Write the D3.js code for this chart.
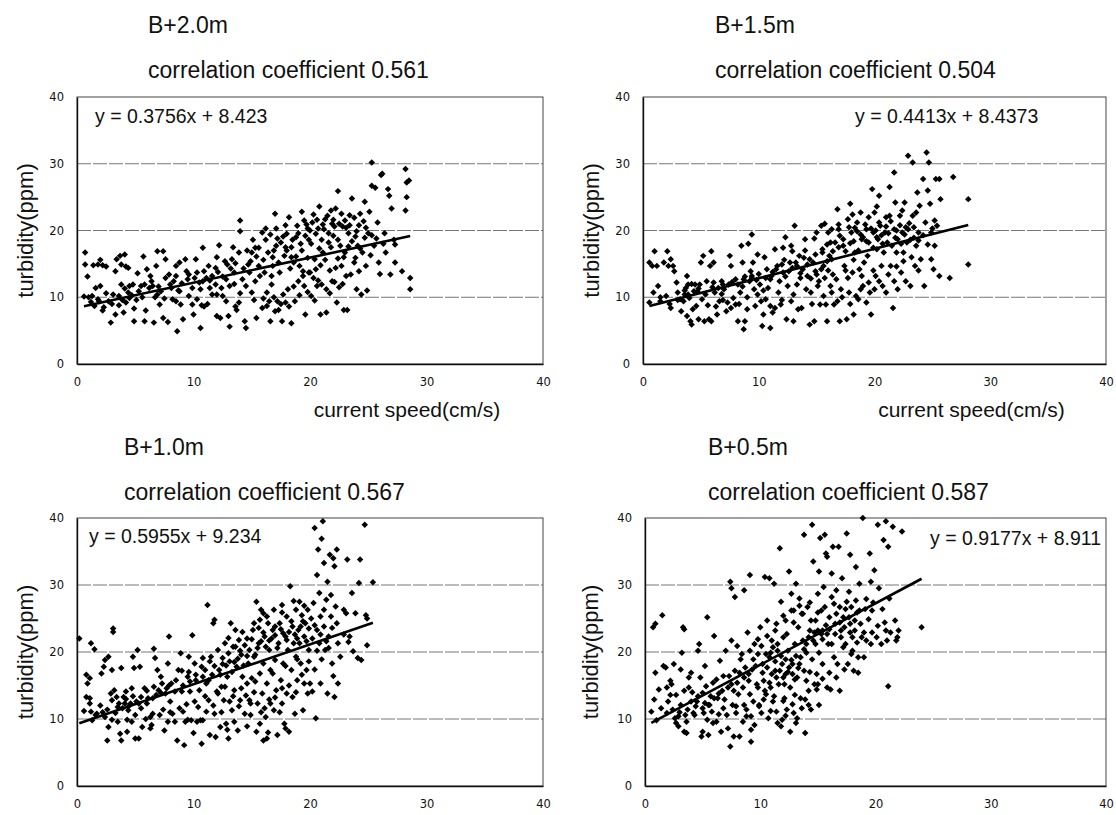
<!DOCTYPE html>
<html>
<head>
<meta charset="utf-8">
<script src="https://cdn.jsdelivr.net/npm/d3@7"></script>
<style>
  body { margin: 0; background: #fff; }
  svg { display: block; font-family: "Liberation Sans", Arial, sans-serif; }
</style>
</head>
<body>
<svg id="chart" width="1116" height="815"></svg>
<script>
// ---- data ----
const depthNames = ["B+2.0m", "B+1.5m", "B+1.0m", "B+0.5m"];
const correlations = ["0.561", "0.504", "0.567", "0.587"];
const slopes = [0.3756, 0.4413, 0.5955, 0.9177];
const intercepts = [8.423, 8.4373, 9.234, 8.911];
const equationLabels = ["y = 0.3756x + 8.423", "y = 0.4413x + 8.4373", "y = 0.5955x + 9.234", "y = 0.9177x + 8.911"];
const xTicks = [0, 10, 20, 30, 40];
const yTicks = [0, 10, 20, 30, 40];

// [current speed (cm/s), turbidity (ppm)]
const pointsB20 = [
  [0.7,16.7],[0.7,14.9],[0.9,13.1],[0.6,10.1],[1.0,10.0],[1.3,10.2],[1.4,14.8],[1.8,14.9],[2.2,14.8],[2.5,14.6],[2.0,15.6],
  [2.0,11.7],[1.5,8.7],[1.9,9.4],[2.3,8.5],[2.9,6.2],[3.1,10.4],[3.3,13.9],[3.4,15.7],[3.7,16.2],[4.1,16.4],[3.8,14.9],
  [4.2,14.6],[4.4,14.4],[3.3,7.4],[4.0,7.7],[4.1,11.3],[3.8,11.9],[4.5,11.7],[4.8,11.9],[4.5,9.9],[4.2,9.2],[4.9,6.4],
  [5.1,9.6],[5.2,13.6],[5.5,11.7],[5.8,11.9],[5.7,16.1],[6.0,14.2],[6.3,13.2],[5.8,6.4],[6.6,6.2],[6.5,11.7],[6.8,14.7],
  [6.9,16.9],[7.4,16.9],[7.6,15.7],[6.9,10.4],[7.1,8.9],[7.4,6.9],[7.8,6.3],[7.6,12.9],[8.0,11.9],[8.3,12.4],[8.5,13.2],
  [8.2,9.7],[8.5,14.7],[8.8,15.2],[8.6,4.9],[8.8,10.9],[8.9,8.9],[9.1,6.7],[9.3,15.7],[9.4,13.9],[9.5,12.7],[9.9,8.9],
  [10.0,7.4],[10.2,15.7],[10.3,13.7],[10.5,12.2],[10.6,11.2],[10.8,17.4],[10.6,5.4],[10.9,8.6],[11.1,12.9],[11.3,14.7],
  [11.4,11.4],[11.6,10.4],[11.9,14.4],[12.0,16.0],[12.2,17.8],[12.0,7.2],[12.3,6.9],[12.5,13.1],[12.7,15.4],[12.8,9.4],
  [13.0,7.2],[13.1,5.6],[13.3,15.7],[13.4,17.5],[13.5,13.7],[13.6,8.6],[13.7,8.1],[13.9,16.7],[14.0,21.5],[14.0,19.9],
  [14.2,12.7],[14.4,6.4],[14.5,5.4],[14.7,14.9],[15.0,10.7],[15.1,18.6],[15.3,17.4],[15.4,16.1],[15.6,14.7],[15.7,13.2],
  [15.4,6.9],[15.9,8.4],[16.2,20.3],[16.2,18.6],[16.4,16.7],[16.3,10.7],[16.5,9.4],[16.6,6.4],[16.7,13.2],[16.8,14.7],
  [17.0,22.5],[17.1,20.3],[17.1,17.7],[17.2,9.4],[17.3,8.1],[17.4,13.7],[17.6,6.4],[17.7,19.1],[17.9,20.8],[18.1,11.2],
  [18.2,22.0],[18.4,17.5],[18.4,6.1],[18.5,18.6],[18.7,9.4],[18.8,16.1],[19.0,19.6],[19.1,14.7],[19.3,22.8],[19.4,13.2],
  [19.5,11.7],[19.6,7.4],[19.8,20.3],[19.9,18.6],[20.0,13.7],[20.1,10.2],[20.2,21.2],[20.4,15.7],[20.5,14.2],[20.6,11.7],
  [20.7,20.3],[20.8,23.6],[20.9,7.4],[21.0,18.6],[21.1,16.7],[21.3,21.7],[21.4,11.2],[21.4,7.7],[21.6,19.6],[21.8,17.5],
  [21.9,12.4],[22.1,20.6],[22.2,23.3],[22.3,9.2],[22.4,25.9],[22.4,18.6],[22.5,11.5],[22.7,14.7],[22.8,20.6],[22.9,8.1],
  [23.0,16.7],[23.1,13.2],[23.2,8.1],[23.3,19.6],[23.4,22.3],[23.6,24.8],[23.8,15.2],[23.9,19.1],[24.0,11.2],[24.1,17.7],
  [24.2,20.8],[24.4,10.4],[24.5,16.7],[24.7,24.3],[24.8,14.7],[24.9,11.0],[25.0,19.6],[25.1,22.8],[25.3,30.2],[25.3,26.7],
  [25.5,17.7],[25.6,26.4],[25.8,21.2],[25.9,15.2],[26.0,13.5],[26.1,28.3],[26.2,28.5],[26.4,19.6],[26.5,16.7],[26.7,26.2],
  [26.8,25.2],[26.9,13.4],[27.0,23.3],[27.2,18.6],[27.3,15.2],[27.3,17.9],[27.9,13.9],[28.2,29.2],[28.3,27.2],[28.3,25.0],
  [28.2,23.0],[28.5,27.5],[28.6,12.9],[28.6,11.2],
  [17.5,18.2],[18.0,17.0],[18.8,19.0],[19.2,18.0],[19.6,19.2],[20.1,18.0],[20.5,19.5],[21.2,20.2],[21.6,18.2],[22.0,19.2],
  [22.6,17.7],[23.1,20.4],[23.6,18.4],[24.0,19.9],[24.6,21.4],[21.9,21.0],[20.8,17.3],[19.8,15.9],[18.6,15.2],[17.8,16.2],
  [16.9,17.0],[22.9,16.0],[23.9,15.9],[24.3,17.3],[21.3,15.6],[20.3,12.9],[19.0,12.4],[19.9,13.7],[18.3,14.3],[22.2,14.4],
  [16.1,13.7],[15.6,17.4],[14.8,13.7],[13.2,14.3],[12.8,12.7],[11.6,13.2],[10.8,12.4],[9.9,11.4],[9.0,12.1],[8.1,11.4],
  [7.2,10.9],[6.2,11.4],[5.3,10.9],[4.4,10.7],[3.6,10.2],[2.7,9.4],[1.8,9.7],[12.5,10.2],[14.5,11.7],[16.7,11.9],
  [17.9,9.2],[16.3,8.7],[17.0,7.9],[13.9,9.2],[10.3,9.7],[11.9,11.9],
  [1.2,9.3],[2.5,10.6],[3.0,9.0],[3.9,9.6],[4.7,10.3],[5.6,10.0],[6.4,12.4],[7.0,11.6],[7.9,13.4],[8.7,11.0],[9.6,13.4],
  [10.1,12.9],[10.9,13.9],[11.4,12.5],[12.1,13.8],[12.9,14.9],[13.6,15.1],[14.3,14.3],[14.9,15.4],[15.3,12.4],[16.0,15.6],
  [16.8,16.0],[17.3,15.2],[17.9,17.5],[18.4,16.0],[19.3,17.0],[19.7,20.9],[20.0,20.0],[20.6,21.6],[21.1,20.9],[21.5,22.2],
  [22.0,21.6],[22.5,21.0],[23.0,21.5],[23.4,20.8],[23.8,21.9],[24.3,22.5],[24.8,20.4],[25.3,19.3],[25.7,18.8],[26.3,18.0],
  [22.7,22.5],[21.8,23.0],[20.3,22.4],[19.5,21.5],[18.9,20.7],[18.0,19.5],[17.2,18.8],[16.6,19.4],[15.9,19.7],[15.0,16.7],
  [14.6,17.0],[16.9,10.0],[17.5,9.0],[18.2,8.6],[17.7,10.4],[16.0,9.8],[18.6,11.6],[19.1,10.3],[19.8,10.8],[20.4,9.5],
  [21.0,11.9],[21.7,10.6],[22.1,12.3],[22.8,12.0],[23.5,13.4],[24.2,13.9],[20.7,12.5],[19.4,13.9],[20.9,14.8],[21.7,14.0],
  [22.4,15.8],[23.3,17.6],[24.7,18.9],[25.2,16.3],[13.1,11.7],[12.0,10.4],[11.2,9.0],[10.7,8.8],[9.6,10.2],[8.5,9.4],
  [7.5,9.8],[6.7,10.0],[5.9,8.0],[4.9,8.3],[3.6,8.8],[2.2,8.0],[1.6,11.4],[14.0,10.6],[15.2,9.6],[13.5,12.0],[12.4,11.4]
];

const pointsB15 = [
  [0.55,15.2],[0.8,14.7],[1.0,16.9],[1.2,14.7],[0.55,9.2],[0.9,10.7],[1.3,11.7],[1.5,9.4],[1.8,15.2],[2.1,16.9],[2.2,14.7],
  [2.4,15.7],[2.6,14.7],[2.7,13.9],[2.0,10.2],[2.4,8.4],[2.9,12.2],[3.0,10.7],[3.3,7.9],[3.5,9.4],[3.6,10.4],[3.7,11.4],
  [3.8,13.2],[3.9,11.9],[4.0,9.9],[4.1,6.4],[4.2,5.9],[4.3,8.2],[4.5,11.9],[4.7,10.9],[4.8,6.7],[5.0,15.2],[5.1,9.7],
  [5.2,16.2],[5.5,12.4],[5.7,6.7],[5.3,6.4],[5.8,14.7],[5.9,16.9],[6.1,15.2],[6.1,12.2],[6.2,10.7],[5.9,6.4],[6.4,7.4],
  [6.6,9.4],[6.8,12.4],[7.0,11.2],[7.3,9.2],[7.2,7.9],[7.5,16.2],[7.6,14.7],[7.8,9.9],[8.0,8.9],[8.2,6.4],[8.4,10.7],
  [8.5,17.7],[8.6,15.2],[8.7,12.7],[8.7,5.2],[8.8,6.4],[9.0,8.2],[9.1,18.0],[9.3,13.9],[9.4,13.2],[9.4,19.4],[9.5,15.2],
  [9.6,11.2],[9.7,8.7],[9.9,16.4],[10.1,11.9],[10.2,9.4],[10.3,5.7],[10.4,7.4],[10.5,16.0],[10.7,14.2],[10.8,11.4],
  [11.0,8.7],[11.0,5.4],[11.1,13.2],[11.2,7.7],[11.4,17.2],[11.6,14.7],[11.7,10.7],[11.9,8.9],[12.1,17.4],[12.1,13.7],
  [12.3,19.0],[12.4,6.7],[12.5,11.7],[12.7,15.2],[12.8,17.7],[12.8,9.4],[13.0,6.4],[13.1,20.7],[13.3,14.7],[13.4,8.2],
  [13.5,16.2],[13.6,12.9],[13.7,8.4],[14.0,18.7],[14.2,13.2],[14.4,5.9],[14.5,10.7],[14.7,15.2],[14.8,6.4],[15.0,19.7],
  [15.0,13.4],[15.1,11.7],[15.3,8.9],[15.4,20.7],[15.5,16.7],[15.6,14.7],[15.7,12.9],[15.8,8.9],[15.9,6.4],[16.0,19.7],
  [16.2,18.2],[16.3,10.7],[16.3,15.7],[16.5,8.9],[16.7,12.7],[16.8,23.2],[16.9,20.2],[17.0,6.4],[17.1,11.2],[17.3,17.7],
  [17.4,14.7],[17.6,6.7],[17.7,21.7],[17.8,10.7],[17.9,24.0],[18.0,19.7],[18.1,13.7],[18.2,7.4],[18.3,16.7],[18.5,21.2],
  [18.6,9.7],[18.7,14.2],[18.8,22.7],[18.9,18.7],[19.0,11.7],[19.1,15.2],[19.3,20.2],[19.3,9.2],[19.4,16.2],[19.6,10.7],
  [19.7,7.4],[19.8,26.2],[19.9,19.7],[20.0,22.7],[20.1,13.2],[20.2,17.2],[20.3,18.7],[20.4,25.2],[20.5,20.7],[20.6,14.7],
  [20.7,11.7],[20.8,16.7],[20.9,19.7],[21.0,10.7],[21.1,18.2],[21.3,22.2],[21.3,26.5],[21.4,14.7],[21.6,8.4],[21.7,20.2],
  [21.7,28.7],[21.8,24.2],[21.9,16.7],[22.0,11.2],[22.0,18.7],[22.2,22.2],[22.3,13.7],[22.4,19.7],[22.5,16.7],[22.6,24.2],
  [22.7,12.4],[22.8,18.2],[22.9,31.2],[22.9,20.2],[23.1,11.7],[23.3,30.2],[23.3,22.2],[23.4,18.9],[23.5,14.7],[23.6,22.7],
  [23.7,25.7],[23.8,19.7],[23.9,23.7],[24.0,15.7],[24.2,27.7],[24.3,11.7],[24.4,21.2],[24.5,31.7],[24.6,26.0],[24.7,30.2],
  [24.8,24.0],[24.9,15.7],[24.9,19.7],[25.1,14.2],[25.2,17.7],[25.2,21.5],[25.3,27.7],[25.4,20.7],[25.6,13.2],[25.6,27.7],
  [25.7,24.7],[26.5,12.9],[26.8,28.0],[28.1,24.7],[28.1,14.9],
  [15.5,17.2],[16.1,16.2],[16.6,18.2],[17.0,19.2],[17.5,16.9],[18.2,18.4],[18.6,17.0],[19.0,19.0],[19.5,18.2],[19.9,17.4],
  [20.2,19.0],[20.7,18.0],[21.2,19.6],[21.5,17.7],[21.9,20.0],[22.3,18.0],[22.7,20.5],[23.1,18.6],[23.6,17.7],[20.4,21.2],
  [19.2,20.9],[18.5,19.9],[17.8,20.5],[16.9,20.9],[15.9,15.4],[14.9,13.9],[14.2,14.9],[13.6,13.6],[12.9,14.4],[12.3,13.1],
  [11.8,12.4],[11.2,13.8],[10.6,12.9],[9.8,12.6],[9.2,12.4],[8.8,13.1],[8.2,11.9],[7.7,12.3],[6.9,11.9],[6.5,11.4],
  [4.9,11.9],[4.4,10.9],[3.9,10.4],[3.2,9.7],[13.9,15.9],[15.2,12.4],[16.4,13.4],[17.7,12.9],[18.9,13.2],[20.0,11.2],
  [21.7,12.4],[14.6,9.0],[16.8,9.4],[18.4,10.2],
  [1.5,10.0],[2.3,9.0],[3.0,9.6],[3.6,11.0],[4.2,12.0],[4.8,11.3],[5.4,10.4],[6.0,11.5],[6.8,10.5],[7.4,11.9],[8.0,12.7],
  [8.6,11.6],[9.4,12.9],[10.0,13.5],[10.4,11.0],[11.0,12.7],[11.5,14.2],[12.0,14.9],[12.6,13.9],[13.2,15.2],[13.8,14.2],
  [14.4,15.7],[14.9,16.4],[15.4,14.2],[15.9,17.9],[16.4,16.9],[16.9,17.5],[17.3,18.7],[17.9,18.1],[18.3,20.4],[18.8,19.4],
  [19.3,18.4],[19.7,20.3],[20.1,20.0],[20.6,19.3],[21.0,20.6],[21.4,21.4],[21.8,18.9],[22.2,20.8],[22.6,19.4],[23.0,21.1],
  [23.4,20.5],[23.8,18.5],[24.2,19.3],[24.6,17.9],[25.0,20.3],[22.4,23.0],[21.0,22.0],[20.2,23.6],[19.5,22.0],[18.1,22.4],
  [16.3,20.2],[15.7,21.0],[14.8,18.8],[14.0,17.0],[12.9,16.9],[12.2,15.6],[17.2,10.0],[17.9,9.0],[18.8,11.2],[19.5,12.2],
  [19.9,14.0],[20.4,12.4],[21.2,13.4],[21.9,14.6],[22.5,15.4],[23.2,16.0],[23.8,14.0],[15.6,10.2],[14.1,11.2],[13.0,10.4],
  [12.0,9.6],[11.4,8.4],[10.6,9.7],[9.9,10.4],[9.0,10.0],[8.3,9.0],[7.6,8.4],[6.9,9.6],[6.3,8.6],[5.6,8.8],[4.6,8.7],
  [3.8,7.2],[16.2,11.7],[17.5,14.0],[18.2,15.6],[16.0,14.0],[14.5,12.8],[13.3,11.9]
];

const pointsB10 = [
  [0.2,22.0],[0.8,13.3],[0.9,15.3],[0.8,16.6],[1.1,16.1],[1.2,21.3],[1.5,20.4],[1.1,13.1],[1.1,12.3],[1.2,11.1],[1.7,10.8],
  [2.1,16.8],[2.3,17.8],[2.4,18.8],[2.7,19.3],[2.4,10.3],[2.6,6.8],[2.7,8.8],[3.1,23.5],[3.1,23.0],[3.0,17.3],[2.9,13.8],
  [3.2,14.3],[3.4,13.3],[3.5,11.8],[3.5,9.6],[3.7,7.8],[3.8,6.8],[3.8,17.6],[4.0,13.3],[4.1,12.3],[4.2,14.1],[4.3,8.1],
  [4.4,11.3],[4.6,12.3],[4.7,14.6],[4.8,19.3],[4.9,17.6],[4.7,9.6],[5.0,7.1],[5.2,20.3],[5.3,12.3],[5.4,17.8],[5.5,13.3],
  [5.3,7.1],[5.6,8.8],[5.8,14.6],[6.0,12.3],[6.3,10.3],[6.4,9.1],[6.5,13.1],[6.6,20.5],[6.7,19.1],[6.9,17.3],[7.0,14.3],
  [7.1,10.6],[7.2,16.3],[7.3,15.3],[7.5,8.3],[7.6,13.8],[7.8,18.3],[7.9,22.3],[8.0,12.6],[8.1,15.3],[8.2,10.8],[8.4,9.6],
  [8.6,6.8],[8.7,17.3],[8.9,19.8],[9.0,14.1],[9.1,11.1],[9.2,6.1],[9.3,9.6],[9.5,16.3],[9.6,19.3],[9.7,14.1],[9.8,9.8],
  [9.9,22.5],[10.1,18.3],[10.2,15.8],[10.3,9.6],[10.4,11.8],[10.5,14.3],[10.7,6.3],[10.8,19.1],[10.8,9.8],[11.0,17.3],
  [11.1,15.3],[11.2,27.0],[11.3,12.8],[11.5,19.3],[11.6,16.6],[11.7,24.3],[11.8,10.8],[11.8,24.8],[11.9,7.3],[12.1,20.3],
  [12.1,13.8],[12.2,17.3],[12.3,8.8],[12.4,14.8],[12.5,19.1],[12.6,12.8],[12.7,21.3],[12.8,9.3],[12.9,16.3],[13.0,7.1],
  [13.1,18.6],[13.2,24.3],[13.3,11.3],[13.4,20.8],[13.5,14.3],[13.6,23.3],[13.7,17.8],[13.8,8.3],[13.9,21.8],[14.0,12.8],
  [14.1,19.6],[14.2,16.3],[14.4,10.8],[14.4,21.0],[14.6,15.3],[14.7,18.3],[14.8,12.8],[14.9,10.6],[15.1,23.3],[15.2,19.3],
  [15.3,15.6],[15.4,27.5],[15.4,8.1],[15.5,12.3],[15.6,21.3],[15.7,16.8],[15.7,24.8],[15.8,26.3],[15.9,13.8],[16.0,18.3],
  [16.0,6.8],[16.1,22.3],[16.2,10.3],[16.3,15.3],[16.3,7.1],[16.4,24.3],[16.5,20.3],[16.6,12.3],[16.6,17.3],[16.8,23.3],
  [16.9,26.3],[16.9,11.3],[17.0,18.8],[17.1,14.3],[17.2,7.6],[17.3,21.3],[17.4,24.3],[17.5,15.8],[17.6,27.0],[17.6,12.3],
  [17.7,18.3],[17.8,9.3],[17.9,22.3],[18.0,25.3],[18.0,13.8],[18.1,20.3],[18.2,8.1],[18.3,29.8],[18.4,17.3],[18.5,23.8],
  [18.5,13.3],[18.6,21.3],[18.7,10.8],[18.8,26.3],[18.8,19.3],[18.9,15.8],[19.0,23.3],[19.1,27.5],[19.1,21.3],[19.2,18.3],
  [19.3,25.5],[19.4,11.3],[19.5,15.3],[19.5,22.3],[19.6,24.3],[19.7,17.3],[19.8,13.8],[19.8,26.3],[19.9,20.3],[20.0,15.3],
  [20.2,14.1],[20.3,27.3],[20.4,38.5],[20.5,10.1],[20.6,23.3],[20.6,31.5],[20.7,35.3],[20.8,21.3],[20.9,25.3],[20.9,15.3],
  [21.0,36.9],[21.1,39.5],[21.2,33.3],[21.2,23.8],[21.3,20.3],[21.4,27.8],[21.5,30.5],[21.5,13.8],[21.6,22.3],[21.7,34.5],
  [21.8,28.5],[21.8,25.3],[21.9,18.3],[22.0,34.0],[22.1,32.8],[22.1,13.3],[22.2,26.8],[22.3,35.3],[22.4,21.3],[22.4,15.3],
  [22.6,19.3],[22.9,26.3],[23.1,25.8],[23.2,33.8],[23.4,22.3],[23.6,28.8],[23.7,20.1],[24.1,19.1],[24.2,30.3],[24.3,33.8],
  [24.4,18.8],[24.7,39.0],[24.8,25.5],[24.9,21.0],[24.9,25.0],[25.4,30.4],
  [12.3,16.6],[12.8,18.0],[13.3,17.0],[13.8,19.0],[14.3,18.0],[14.8,20.3],[15.3,19.6],[15.8,21.6],[16.2,20.8],[16.7,22.0],
  [17.2,20.6],[17.7,22.8],[18.2,23.0],[18.7,22.6],[19.2,23.8],[19.7,21.6],[20.2,22.0],[20.6,20.2],[17.0,23.8],[16.3,25.3],
  [15.6,23.6],[14.6,22.0],[13.6,20.8],[11.4,18.6],[10.8,16.3],[9.7,15.6],[9.1,15.0],[8.4,14.1],[7.7,14.6],[6.8,13.6],
  [6.1,13.1],[5.1,12.6],[4.5,12.0],[3.9,11.6],[3.3,10.9],[2.2,11.0],[1.6,10.6],[14.1,14.6],[15.0,16.1],[16.8,16.8],
  [17.9,17.9],[18.9,18.9],[12.0,14.1],[13.1,12.6],[14.9,12.3],[16.1,11.6],[17.4,11.0],[11.1,11.1],[9.5,9.9],[10.6,9.8],
  [7.8,9.6],[6.3,8.6],
  [0.6,11.2],[1.3,9.8],[2.0,12.0],[2.6,11.4],[3.0,12.8],[3.6,12.3],[4.2,13.0],[4.8,13.4],[5.5,11.6],[6.0,14.2],[6.6,14.8],
  [7.2,13.9],[7.9,15.0],[8.5,15.8],[9.0,17.2],[9.6,17.0],[10.2,16.6],[10.7,17.8],[11.3,15.8],[11.8,17.9],[12.5,18.2],
  [13.0,19.8],[13.5,18.5],[14.0,20.2],[14.6,19.4],[15.0,21.9],[15.5,20.6],[16.0,22.9],[16.5,21.7],[17.0,22.5],[17.5,23.4],
  [18.0,21.8],[18.4,24.6],[18.9,22.0],[19.4,24.6],[19.9,23.5],[20.4,24.0],[20.9,22.6],[21.4,21.6],[21.9,23.6],[22.3,24.3],
  [22.9,22.6],[23.3,21.5],[23.9,25.8],[16.0,25.8],[15.2,24.3],[14.2,23.0],[13.0,22.1],[17.6,25.9],[18.6,27.6],[19.5,26.9],
  [20.1,25.0],[20.8,28.8],[21.2,26.3],[12.7,14.8],[13.4,13.4],[13.9,11.9],[14.5,13.5],[15.2,14.0],[15.8,11.0],[16.5,12.9],
  [17.0,13.2],[17.6,14.6],[18.2,15.0],[18.8,14.0],[19.3,16.6],[19.9,18.6],[20.4,17.4],[21.0,18.9],[21.6,20.6],[22.0,16.4],
  [11.7,12.0],[12.4,11.0],[11.0,13.4],[10.1,12.6],[9.4,12.2],[8.8,11.6],[8.0,11.0],[7.4,11.4],[6.5,10.8],[5.9,10.0],
  [5.0,10.6],[4.3,9.9],[3.0,9.9],[12.9,8.4],[13.5,9.6],[14.6,8.9],[15.7,9.3],[16.4,8.0],[17.9,8.6],[11.4,7.6],[10.0,7.9]
];

const pointsB05 = [
  [0.55,11.1],[0.7,23.7],[0.9,24.2],[0.8,12.9],[0.9,16.9],[1.2,14.4],[1.5,25.5],[1.6,17.9],[1.8,17.7],[1.9,14.7],[2.2,15.7],
  [2.3,15.2],[2.4,11.4],[2.5,18.2],[2.6,10.1],[2.7,9.4],[2.9,8.9],[3.1,12.1],[3.2,19.9],[3.3,23.7],[3.4,23.4],[3.4,14.2],
  [3.5,10.6],[3.4,8.1],[3.6,7.9],[3.8,14.7],[3.8,16.2],[4.0,12.6],[4.2,10.9],[4.3,10.6],[4.5,12.6],[4.6,20.2],[4.7,21.2],
  [4.8,16.2],[4.9,7.4],[5.0,8.1],[5.1,10.9],[5.2,17.9],[5.3,14.9],[5.4,25.2],[5.5,7.6],[5.5,12.1],[5.7,13.4],[5.8,11.1],
  [5.9,9.4],[6.0,22.4],[6.2,15.9],[6.3,13.1],[6.5,18.7],[6.6,8.1],[6.8,11.6],[6.8,16.4],[7.0,20.2],[7.1,10.6],[7.2,14.7],
  [7.4,5.9],[7.4,30.5],[7.5,29.5],[7.5,21.7],[7.6,12.1],[7.7,7.4],[7.8,28.2],[7.8,17.2],[7.9,10.9],[8.1,13.7],[8.2,7.4],
  [8.3,18.9],[8.5,14.7],[8.6,29.2],[8.6,12.1],[8.8,10.4],[8.9,22.9],[9.0,15.7],[9.1,31.5],[9.2,8.4],[9.2,6.6],[9.3,17.4],
  [9.4,12.6],[9.5,21.2],[9.5,9.1],[9.7,15.2],[9.8,19.7],[9.9,12.1],[10.0,23.7],[10.1,10.9],[10.2,18.2],[10.3,15.7],
  [10.4,31.2],[10.5,13.7],[10.6,24.7],[10.7,10.1],[10.8,19.2],[10.8,31.0],[10.9,14.7],[11.0,21.7],[11.1,12.6],[11.2,30.2],
  [11.3,17.2],[11.4,24.2],[11.4,11.1],[11.5,20.2],[11.6,15.2],[11.7,35.5],[11.8,27.5],[11.8,8.9],[11.9,18.2],[12.0,22.2],
  [12.1,13.1],[12.2,16.7],[12.2,24.7],[12.3,11.4],[12.4,20.2],[12.5,32.0],[12.6,8.1],[12.6,14.7],[12.7,28.7],[12.8,18.2],
  [12.9,10.9],[12.9,26.2],[13.0,21.2],[13.1,30.2],[13.2,16.2],[13.2,10.1],[13.3,23.7],[13.4,28.0],[13.5,19.2],[13.5,13.1],
  [13.7,25.7],[13.8,37.5],[13.8,17.2],[13.9,7.9],[14.0,21.2],[14.1,26.7],[14.2,14.2],[14.2,12.1],[14.3,23.2],[14.5,18.9],
  [14.5,39.0],[14.6,33.5],[14.7,15.2],[14.8,24.7],[14.8,21.2],[14.9,16.7],[15.0,28.7],[15.1,12.1],[15.1,32.0],[15.2,37.0],
  [15.3,26.2],[15.4,18.2],[15.4,23.2],[15.5,29.7],[15.6,37.5],[15.7,34.7],[15.8,14.7],[15.8,34.2],[15.9,21.2],[16.0,25.2],
  [16.2,28.2],[16.2,31.7],[16.3,35.7],[16.4,19.2],[16.5,24.2],[16.6,29.2],[16.6,16.2],[16.8,35.7],[16.9,26.7],[16.9,14.2],
  [17.0,22.2],[17.1,31.0],[17.2,25.2],[17.4,21.2],[17.5,27.5],[17.5,37.7],[17.6,18.2],[17.7,29.0],[17.8,24.2],[17.8,34.5],
  [17.9,26.7],[18.0,20.2],[18.1,17.2],[18.2,23.2],[18.3,32.7],[18.4,25.9],[18.5,19.2],[18.5,16.9],[18.6,30.2],[18.8,22.2],
  [18.9,40.0],[19.0,19.2],[19.1,26.4],[19.2,21.7],[19.4,24.9],[19.5,34.7],[19.6,30.5],[19.7,22.9],[19.8,27.4],[19.9,32.2],
  [20.1,22.2],[20.2,39.0],[20.3,29.5],[20.5,21.2],[20.6,26.4],[20.7,36.7],[20.9,23.2],[20.9,39.5],[21.0,21.7],[21.1,35.7],
  [21.1,14.9],[21.2,28.0],[21.5,38.7],[21.7,24.7],[21.8,21.7],[22.0,23.2],[22.3,38.0],[24.0,23.7],
  [10.6,17.7],[11.0,16.7],[11.3,18.6],[11.7,17.2],[12.0,16.2],[12.2,18.9],[12.5,17.7],[12.8,16.7],[13.1,19.4],[13.4,18.2],
  [13.8,20.4],[14.2,22.2],[14.6,21.7],[15.0,23.2],[15.3,22.7],[15.7,24.0],[16.0,23.4],[16.5,22.7],[16.9,24.4],[17.3,23.7],
  [17.7,25.2],[18.2,24.7],[18.6,26.2],[14.4,24.7],[13.6,25.7],[12.9,24.4],[12.3,22.7],[11.5,21.2],[10.9,19.9],[10.1,20.9],
  [9.6,17.9],[9.0,16.7],[8.6,16.2],[8.0,15.4],[7.5,15.2],[6.7,14.2],[6.0,13.1],[5.2,12.4],[4.4,11.9],[3.7,11.4],
  [2.9,10.4],[1.9,10.9],[10.4,14.2],[11.2,13.4],[12.0,12.7],[13.0,13.6],[14.0,15.7],[15.0,15.2],[16.1,14.4],[17.2,20.7],
  [18.0,22.2],[8.8,11.4],[9.9,11.9],[7.9,11.9],[6.4,10.7],[5.6,12.1],[11.9,9.9],[13.6,11.6],
  [1.0,9.8],[1.4,11.6],[2.0,12.6],[2.7,13.6],[3.0,11.0],[3.6,9.6],[4.1,14.0],[4.6,13.4],[5.0,11.6],[5.4,9.9],[5.9,15.4],
  [6.4,13.8],[6.9,12.9],[7.3,16.4],[7.7,14.2],[8.2,16.9],[8.7,17.7],[9.1,13.7],[9.4,18.9],[9.8,14.7],[10.2,16.9],[10.5,19.7],
  [10.8,15.4],[11.1,20.7],[11.4,16.2],[11.8,19.4],[12.1,15.2],[12.4,17.0],[12.7,18.8],[13.0,15.9],[13.3,17.6],[13.7,21.7],
  [14.0,19.9],[14.3,17.0],[14.7,22.9],[15.1,19.9],[15.4,21.9],[15.8,22.7],[16.2,21.2],[16.6,25.7],[17.0,23.2],[17.4,26.4],
  [17.8,22.9],[18.3,27.7],[18.7,24.2],[19.2,27.9],[19.7,26.2],[16.4,27.2],[15.6,26.7],[15.0,25.9],[14.3,27.4],[13.4,26.9],
  [12.7,26.2],[12.0,25.4],[11.3,23.2],[10.6,22.4],[9.8,21.9],[9.1,20.2],[8.4,19.7],[8.0,20.9],[10.3,12.9],[10.9,11.2],
  [11.5,9.4],[12.2,10.5],[12.8,12.2],[13.1,9.4],[13.9,12.9],[14.4,11.4],[14.9,14.4],[15.4,16.0],[16.0,16.9],[16.7,18.2],
  [17.3,17.4],[17.9,19.7],[18.4,21.4],[19.0,22.9],[19.6,21.2],[20.2,23.9],[20.8,24.4],[21.3,22.9],[21.9,22.2],[8.5,9.6],
  [9.2,10.4],[7.2,8.6],[6.2,9.6],[5.0,13.9],[4.0,16.9],[3.1,17.4],[2.2,13.6]
];

const seriesPoints = [pointsB20, pointsB15, pointsB10, pointsB05];

// ---- layout of each panel (pixels) ----
const layout = [
  { left: 77,  right: 543,  top: 97,  bottom: 364, titleX: 148, titleY: 33,  corrY: 78,  eqX: 95,   eqY: 123, eqAnchor: "start", yTitleX: 25,  xTitle: true },
  { left: 643, right: 1106, top: 97,  bottom: 364, titleX: 715, titleY: 33,  corrY: 78,  eqX: 855,  eqY: 123, eqAnchor: "start", yTitleX: 591, xTitle: true },
  { left: 77,  right: 543,  top: 518, bottom: 786, titleX: 124, titleY: 455, corrY: 500, eqX: 89,   eqY: 543, eqAnchor: "start", yTitleX: 25,  xTitle: false },
  { left: 645, right: 1106, top: 518, bottom: 786, titleX: 708, titleY: 455, corrY: 500, eqX: 1101, eqY: 545, eqAnchor: "end",   yTitleX: 590, xTitle: false }
];

const svg = d3.select("#chart");
svg.append("rect").attr("width", 1116).attr("height", 815).attr("fill", "#fff");

const diamond = d3.symbol().type(d3.symbolSquare).size(21);

layout.forEach((L, i) => {
  const data = seriesPoints[i];
  const x = d3.scaleLinear().domain([0, 40]).range([L.left, L.right]);
  const y = d3.scaleLinear().domain([0, 40]).range([L.bottom, L.top]);
  const g = svg.append("g");

  // horizontal gridlines
  g.append("g")
    .selectAll("line")
    .data(yTicks.filter(t => t > 0 && t < 40))
    .join("line")
    .attr("x1", L.left).attr("x2", L.right)
    .attr("y1", d => y(d)).attr("y2", d => y(d))
    .attr("stroke", "#777")
    .attr("stroke-width", 1)
    .attr("stroke-dasharray", "14,2");

  // plot frame
  g.append("rect")
    .attr("x", L.left).attr("y", L.top)
    .attr("width", L.right - L.left).attr("height", L.bottom - L.top)
    .attr("fill", "none").attr("stroke", "#444").attr("stroke-width", 1);

  // axes
  const yAxis = g.append("g")
    .attr("transform", `translate(${L.left},0)`)
    .call(d3.axisLeft(y).tickValues(yTicks).tickSize(0).tickPadding(13));
  const xAxis = g.append("g")
    .attr("transform", `translate(0,${L.bottom})`)
    .call(d3.axisBottom(x).tickValues(xTicks).tickSize(0).tickPadding(14));
  [yAxis, xAxis].forEach(a => {
    a.select(".domain").attr("stroke", "#111").attr("stroke-width", 1.4);
    a.selectAll("text")
      .attr("font-family", "'DejaVu Sans', sans-serif")
      .attr("font-size", 11.5)
      .attr("fill", "#111");
  });

  // scatter points
  g.append("g")
    .selectAll("path")
    .data(data)
    .join("path")
    .attr("d", diamond)
    .attr("transform", d => `translate(${x(d[0])},${y(d[1])}) rotate(45)`)
    .attr("fill", "#000");

  // linear trend line over the data range
  const xr = d3.extent(data, d => d[0]);
  const trend = xr.map(v => [v, slopes[i] * v + intercepts[i]]);
  g.append("path")
    .datum(trend)
    .attr("d", d3.line().x(d => x(d[0])).y(d => y(d[1])))
    .attr("fill", "none")
    .attr("stroke", "#000")
    .attr("stroke-width", 2.6);

  // texts
  g.append("text")
    .attr("x", L.titleX).attr("y", L.titleY)
    .attr("font-size", 23).attr("fill", "#111")
    .text(depthNames[i]);
  g.append("text")
    .attr("x", L.titleX).attr("y", L.corrY)
    .attr("font-size", 23).attr("fill", "#111")
    .text("correlation coefficient " + correlations[i]);
  g.append("text")
    .attr("x", L.eqX).attr("y", L.eqY)
    .attr("text-anchor", L.eqAnchor)
    .attr("font-size", 19.5).attr("fill", "#111")
    .text(equationLabels[i]);
  g.append("text")
    .attr("transform", `translate(${L.yTitleX},${(L.top + L.bottom) / 2}) rotate(-90)`)
    .attr("text-anchor", "middle")
    .attr("dominant-baseline", "central")
    .attr("font-size", 22).attr("fill", "#111")
    .text("turbidity(ppm)");
  if (L.xTitle) {
    g.append("text")
      .attr("x", (L.left + L.right) / 2 + 97).attr("y", L.bottom + 53)
      .attr("text-anchor", "middle")
      .attr("font-size", 21).attr("fill", "#111")
      .text("current speed(cm/s)");
  }
});
</script>
</body>
</html>
